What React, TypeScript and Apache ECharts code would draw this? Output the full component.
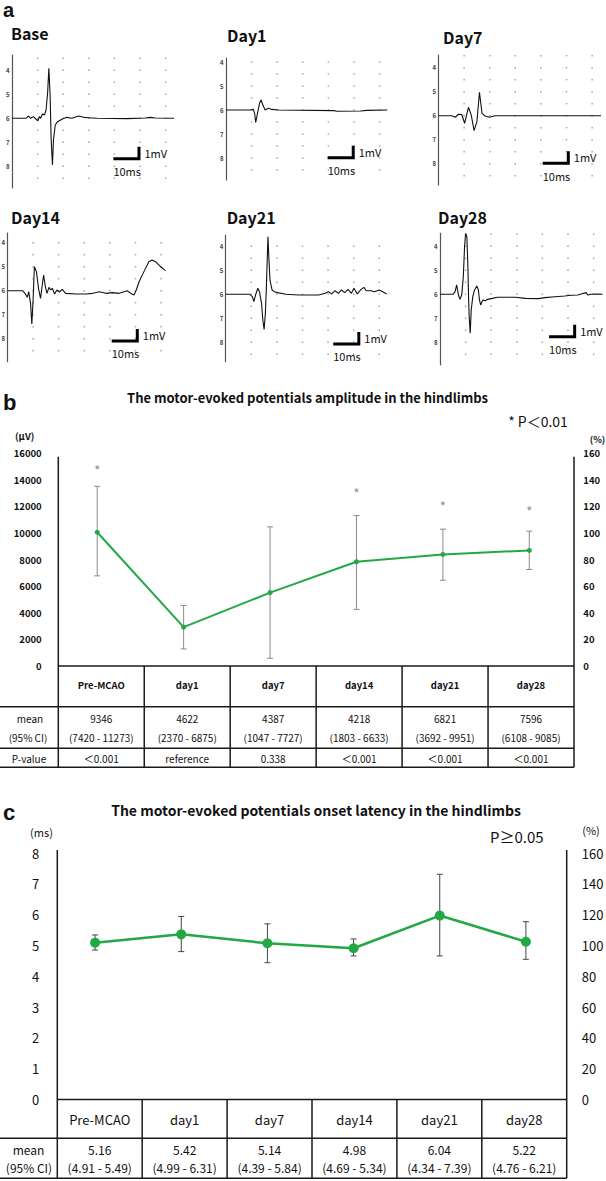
import React, { useEffect, useRef } from "react";
import * as echarts from "echarts";

const W = 606;
const H = 1181;
const FONT = '"Noto Sans CJK JP", "Noto Sans", sans-serif';
const LETTER_FONT = '"Liberation Sans", Arial, sans-serif';
const GREEN = "#22a845";
const INK = "#111";

// ---------- Panel a: MEP waveforms, [ms, mV] ----------
const BASE_TRACE = [[0,0],[5.5,0],[6.4,0.19],[7.3,0],[8.4,0.14],[9.4,-0.08],[10.1,-0.2],[10.7,0.14],[11.2,0],[11.9,0.36],[12.7,0.28],[13.3,0.69],[13.9,2.08],[14.4,4.17],[14.9,1.8],[15.3,-1.8],[15.8,-3.89],[16.2,-1.8],[16.9,-0.56],[17.8,-0.28],[19.5,-0.08],[21.4,0.08],[23.4,0],[26,0.19],[28,0.08],[29.9,0.05],[33.2,0],[45,-0.03],[52,0.03],[54,0.08],[56,0.02],[63.3,0]];
const DAY1_TRACE = [[0,0],[9.4,0],[10.7,0.05],[11.2,-0.3],[11.6,-1.03],[12.3,-0.28],[13.1,0.56],[13.7,0.83],[14.4,0.42],[15.3,0],[16.6,0.14],[17.9,0.05],[20.5,0],[42.1,-0.05],[43.4,-0.1],[52.5,-0.08],[55,-0.03],[63,0]];
const DAY7_TRACE = [[0,0],[5.2,0],[6.5,-0.13],[7.8,0.12],[9.1,0.1],[10.2,-0.63],[11.7,0.7],[12.8,0.05],[13.9,-1.25],[15,-0.5],[16,1.95],[17,0.2],[18.2,-0.03],[19.9,-0.13],[22.1,0],[63.5,0]];
const DAY14_TRACE = [[0,0],[5.9,0],[6.8,-0.22],[7.7,-0.55],[8.3,-0.08],[9.0,-1.05],[9.5,-2.78],[10.0,-0.78],[10.5,2.0],[11.3,1.59],[12.1,0.2],[12.9,-0.64],[13.5,0.33],[14.1,1.31],[14.8,0.33],[15.4,-0.22],[16.2,0.28],[16.9,0.06],[17.5,0.2],[18.4,-0.28],[19.3,0.06],[20.3,-0.11],[21.4,0.11],[22.7,-0.22],[26.8,-0.28],[30.7,-0.28],[33.3,-0.22],[35.9,-0.08],[38.4,-0.22],[41,-0.16],[43.6,-0.22],[46.8,0],[48.1,-0.22],[49.4,-0.36],[50.3,0.06],[51.4,0.75],[53.3,1.59],[55.2,2.42],[56.5,2.56],[57.8,2.42],[59.8,2.0],[61.7,1.67]];
const DAY21_TRACE = [[0,0],[9.35,0],[10.4,-0.2],[11.0,-0.61],[11.65,-0.06],[12.55,0.5],[13.2,0.22],[14.0,-0.75],[14.5,-2.14],[15.0,-2.92],[15.5,-1.58],[15.9,0.64],[16.3,3.41],[16.5,4.8],[16.9,2.86],[17.3,1.19],[18.1,0.36],[19.0,0.22],[20.2,0.14],[23.5,0],[28.6,-0.06],[36.3,-0.06],[38.8,0.08],[40.1,0.22],[41.4,0.03],[42.7,0.3],[44,0.08],[45.2,0.36],[46.5,0.14],[47.8,0.41],[49.1,0.08],[50.1,0.5],[51.4,0.03],[52.9,0.41],[54,0.58],[54.9,0.3],[56.8,0.3],[58.1,0.22],[60,0.36],[61.3,0.22],[62.9,0.03]];
const DAY28_TRACE = [[0,0],[5.1,0],[5.9,0.22],[6.5,0.78],[7.2,-0.06],[7.8,-0.42],[8.5,-0.06],[9.1,1.47],[9.6,3.97],[10,5.08],[10.5,4.8],[10.9,2.3],[11.15,-0.2],[11.4,-1.86],[11.8,-3.25],[12.2,-1.31],[12.8,-0.2],[13.5,0.36],[14.4,0.69],[15,0.36],[15.4,-0.47],[15.9,-0.89],[16.4,-0.61],[16.9,-0.47],[17.7,-0.53],[18.6,-0.42],[20.5,-0.34],[22.4,-0.25],[25.6,-0.25],[29.5,-0.25],[33.3,-0.34],[38.5,-0.36],[41,-0.28],[44.9,-0.2],[48.7,-0.14],[51.3,-0.08],[53.8,-0.06],[55.1,0.03],[57.1,0.14],[57.7,-0.06],[59,0],[61.5,0.03],[63.5,0]];
const TRACES = [BASE_TRACE, DAY1_TRACE, DAY7_TRACE, DAY14_TRACE, DAY21_TRACE, DAY28_TRACE];
const WAVE_TITLES = ["Base", "Day1", "Day7", "Day14", "Day21", "Day28"];
// scale bar start: [ms, mV] (10 ms horizontal, 1 mV vertical)
const SCALE_BARS = [[39.6,-3.37],[39.7,-3.98],[40.7,-3.97],[40.7,-4.19],[42,-4.14],[42.6,-3.53]];
const WAVE_LABEL_VALUES = [-4, -2, 0, 2, 4];
const DOT_MS = [10, 20, 30, 40, 50, 60];
const DOT_MV = [5, 4, 3, 2, 1, 0, -1, -2, -3, -4, -5];

// ---------- Panel b: amplitude ----------
const CATEGORIES = ["Pre-MCAO", "day1", "day7", "day14", "day21", "day28"];
const AMP_MEAN = [10050, 2920, 5510, 7830, 8380, 8680];
const AMP_HI = [13500, 4550, 10450, 11300, 10280, 10130];
const AMP_LO = [6770, 1280, 580, 4250, 6440, 7250];
const AMP_STAR = [14700, null, null, 13000, 12000, 11650];
const AMP_TICK_LEFT = { min: 0, max: 16000, interval: 2000 };
const AMP_TICK_RIGHT = { min: 0, max: 160, interval: 20 };
const AMP_TABLE_MEAN = ["9346", "4622", "4387", "4218", "6821", "7596"];
const AMP_TABLE_CI = ["(7420 - 11273)", "(2370 - 6875)", "(1047 - 7727)", "(1803 - 6633)", "(3692 - 9951)", "(6108 - 9085)"];
const AMP_TABLE_P = ["＜0.001", "reference", "0.338", "＜0.001", "＜0.001", "＜0.001"];

// ---------- Panel c: latency ----------
const LAT_MEAN = [5.09, 5.36, 5.07, 4.91, 5.97, 5.12];
const LAT_HI = [5.34, 5.94, 5.70, 5.21, 7.31, 5.77];
const LAT_LO = [4.85, 4.80, 4.44, 4.66, 4.66, 4.55];
const LAT_TICK_LEFT = { min: 0, max: 8, interval: 1 };
const LAT_TICK_RIGHT = { min: 0, max: 160, interval: 20 };
const LAT_TABLE_MEAN = ["5.16", "5.42", "5.14", "4.98", "6.04", "5.22"];
const LAT_TABLE_CI = ["(4.91 - 5.49)", "(4.99 - 6.31)", "(4.39 - 5.84)", "(4.69 - 5.34)", "(4.34 - 7.39)", "(4.76 - 6.21)"];

// ---------- layout ----------
const PPM = 2.56; // px per ms
const PPV = 12; // px per mV
const X_MAX = 64;
const WAVE_LAYOUT = [
  { tx: 11, ty: 33, x0: 12, base: 118.3, top: 55, bottom: 188 },
  { tx: 227, ty: 34.5, x0: 226, base: 110, top: 58, bottom: 180 },
  { tx: 443, ty: 36.5, x0: 438.5, base: 115.7, top: 55, bottom: 185 },
  { tx: 11, ty: 216.5, x0: 7.5, base: 290.7, top: 233, bottom: 361.7 },
  { tx: 226.7, ty: 216.5, x0: 225.7, base: 294.3, top: 235, bottom: 361.7 },
  { tx: 438, ty: 216.5, x0: 440, base: 294.3, top: 233.3, bottom: 365 },
];
const B = { left: 54, top: 453, width: 518.5, height: 213, colLeft: 58.3, colRight: 574, axisTop: 456.7, rowLines: [706.7, 748.3, 767.3], headY: 684.5, rowY: [718.3, 737.5, 758] };
const C = { left: 52, top: 853, width: 517, height: 246.5, colLeft: 57.3, colRight: 566.7, axisTop: 850, rowLines: [1138.3, 1178.3], headY: 1119.3, rowY: [1149, 1167.7] };

function txt(text: string, x: number, y: number, size: number, o: any = {}) {
  const align = o.align || "center";
  return {
    type: "text", x, y, silent: true, z: 10,
    style: {
      text, fontSize: size, fontFamily: o.family || FONT, fontWeight: o.weight || "normal",
      fill: o.color || INK, align, verticalAlign: "middle", textAlign: align, textVerticalAlign: "middle",
    },
  };
}
function ln(x1: number, y1: number, x2: number, y2: number, w = 1.5, c = "#1a1a1a") {
  return { type: "line", silent: true, z: 10, shape: { x1, y1, x2, y2 }, style: { stroke: c, lineWidth: w } };
}

function errorBars(xi: number, yi: number, lo: number[], hi: number[], color: string, cap: number) {
  return {
    type: "custom", xAxisIndex: xi, yAxisIndex: yi, z: 2, silent: true,
    data: lo.map((l, i) => [i, l, hi[i]]),
    encode: { x: 0, y: [1, 2] },
    renderItem: (_p: any, api: any) => {
      const i = api.value(0);
      const a = api.coord([i, api.value(1)]);
      const b = api.coord([i, api.value(2)]);
      const st = { stroke: color, lineWidth: 1 };
      return {
        type: "group",
        children: [
          { type: "line", shape: { x1: a[0], y1: a[1], x2: b[0], y2: b[1] }, style: st },
          { type: "line", shape: { x1: a[0] - cap, y1: a[1], x2: a[0] + cap, y2: a[1] }, style: st },
          { type: "line", shape: { x1: b[0] - cap, y1: b[1], x2: b[0] + cap, y2: b[1] }, style: st },
        ],
      };
    },
  };
}

function buildOption() {
  const grid: any[] = [];
  const xAxis: any[] = [];
  const yAxis: any[] = [];
  const series: any[] = [];
  const graphic: any[] = [];

  // ----- panel a -----
  WAVE_LAYOUT.forEach((L, i) => {
    const yMax = (L.base - L.top) / PPV;
    const yMin = -(L.bottom - L.base) / PPV;
    grid.push({ left: L.x0, top: L.top, width: X_MAX * PPM, height: L.bottom - L.top, outerBoundsMode: "none", containLabel: false });
    xAxis.push({ type: "value", gridIndex: i, min: 0, max: X_MAX, show: false });
    yAxis.push({
      type: "value", gridIndex: i, min: yMin, max: yMax,
      axisLine: { show: true, lineStyle: { color: "#555", width: 1.2 } },
      axisTick: { show: false }, splitLine: { show: false },
      axisLabel: {
        show: true, customValues: WAVE_LABEL_VALUES, formatter: (v: number) => String(Math.round(6 - v / 2)),
        fontSize: 6, fontWeight: "bold", color: "#444", margin: 2.5, fontFamily: FONT,
      },
    });
    const dots: number[][] = [];
    DOT_MS.forEach((m) => DOT_MV.forEach((v) => { if (v <= yMax && v >= yMin) dots.push([m, v]); }));
    series.push({
      type: "scatter", xAxisIndex: i, yAxisIndex: i, data: dots, symbol: "rect", symbolSize: 1.4,
      itemStyle: { color: "#888" }, silent: true, z: 1,
    });
    series.push({
      type: "line", xAxisIndex: i, yAxisIndex: i, data: TRACES[i], showSymbol: false, symbol: "none",
      lineStyle: { color: "#111", width: 1.1 }, silent: true, z: 3,
    });
    const [s, v] = SCALE_BARS[i];
    series.push({
      type: "line", xAxisIndex: i, yAxisIndex: i, data: [[s, v], [s + 10, v], [s + 10, v + 1]],
      showSymbol: false, symbol: "none", lineStyle: { color: "#000", width: 3, cap: "butt", join: "miter" }, silent: true, z: 4,
    });
    const sx = L.x0 + s * PPM;
    const cx = L.x0 + (s + 10) * PPM;
    const by = L.base - v * PPV;
    graphic.push(txt("1mV", cx + 5.5, by - PPV / 2, 11, { align: "left" }));
    graphic.push(txt("10ms", sx, by + 12.5, 11, { align: "left" }));
    graphic.push(txt(WAVE_TITLES[i], L.tx, L.ty, 16, { align: "left", weight: "bold" }));
  });

  // ----- panel b -----
  const gb = grid.length;
  grid.push({ left: B.left, top: B.top, width: B.width, height: B.height, outerBoundsMode: "none", containLabel: false });
  xAxis.push({ type: "category", gridIndex: gb, data: CATEGORIES, boundaryGap: true, show: false });
  const yb = yAxis.length;
  yAxis.push({
    type: "value", gridIndex: gb, ...AMP_TICK_LEFT, position: "left",
    axisLine: { show: false }, axisTick: { show: false }, splitLine: { show: false },
    axisLabel: { fontSize: 9.5, fontWeight: "bold", color: INK, margin: 12.3, fontFamily: FONT, formatter: (v: number) => String(v) },
  });
  yAxis.push({
    type: "value", gridIndex: gb, ...AMP_TICK_RIGHT, position: "right",
    axisLine: { show: false }, axisTick: { show: false }, splitLine: { show: false },
    axisLabel: { fontSize: 9.5, fontWeight: "bold", color: INK, margin: 10.8, fontFamily: FONT, formatter: (v: number) => String(v) },
  });
  series.push(errorBars(gb, yb, AMP_LO, AMP_HI, "#8a8a8a", 3));
  series.push({
    type: "line", xAxisIndex: gb, yAxisIndex: yb, data: AMP_MEAN, symbol: "circle", symbolSize: 5,
    itemStyle: { color: GREEN }, lineStyle: { color: GREEN, width: 2 }, z: 5, silent: true,
  });
  series.push({
    type: "scatter", xAxisIndex: gb, yAxisIndex: yb, z: 6, silent: true,
    data: AMP_STAR.map((v, i) => (v == null ? null : [i, v])).filter((d) => d),
    symbolSize: 1, itemStyle: { color: "rgba(0,0,0,0)" },
    label: { show: true, position: "inside", formatter: "*", fontSize: 14, color: "#777", fontFamily: FONT },
  });

  // ----- panel c -----
  const gc = grid.length;
  grid.push({ left: C.left, top: C.top, width: C.width, height: C.height, outerBoundsMode: "none", containLabel: false });
  xAxis.push({ type: "category", gridIndex: gc, data: CATEGORIES, boundaryGap: true, show: false });
  const yc = yAxis.length;
  yAxis.push({
    type: "value", gridIndex: gc, ...LAT_TICK_LEFT, position: "left",
    axisLine: { show: false }, axisTick: { show: false }, splitLine: { show: false },
    axisLabel: { fontSize: 13, color: INK, margin: 12.7, fontFamily: FONT },
  });
  yAxis.push({
    type: "value", gridIndex: gc, ...LAT_TICK_RIGHT, position: "right",
    axisLine: { show: false }, axisTick: { show: false }, splitLine: { show: false },
    axisLabel: { fontSize: 13, color: INK, margin: 12.7, fontFamily: FONT },
  });
  series.push(errorBars(gc, yc, LAT_LO, LAT_HI, "#444", 3));
  series.push({
    type: "line", xAxisIndex: gc, yAxisIndex: yc, data: LAT_MEAN, symbol: "circle", symbolSize: 10,
    itemStyle: { color: GREEN }, lineStyle: { color: GREEN, width: 2.5 }, z: 5, silent: true,
  });

  // ----- texts -----
  graphic.push(txt("a", 3, 10, 20, { align: "left", weight: "bold", family: LETTER_FONT }));
  graphic.push(txt("b", 3, 402, 22, { align: "left", weight: "bold", family: LETTER_FONT }));
  graphic.push(txt("c", 3, 812.5, 22, { align: "left", weight: "bold", family: LETTER_FONT }));
  graphic.push(txt("The motor-evoked potentials amplitude in the hindlimbs", 307.5, 397, 13, { weight: "bold" }));
  graphic.push(txt("* P＜0.01", 538, 420.7, 14));
  graphic.push(txt("(μV)", 24.7, 436, 9.5, { weight: "bold" }));
  graphic.push(txt("(%)", 597.5, 439.3, 9, { weight: "bold" }));
  graphic.push(txt("The motor-evoked potentials onset latency in the hindlimbs", 316, 810, 14, { weight: "bold" }));
  graphic.push(txt("P≥0.05", 516.7, 836, 15));
  graphic.push(txt("(ms)", 41.5, 831.7, 11));
  graphic.push(txt("(%)", 591, 830, 11));

  // ----- table b -----
  const bw = (B.colRight - B.colLeft) / CATEGORIES.length;
  const bBottom = B.rowLines[B.rowLines.length - 1];
  const bAxisY = B.top + B.height;
  graphic.push(ln(B.colLeft, bAxisY, B.colRight, bAxisY));
  B.rowLines.forEach((y) => graphic.push(ln(0, y, B.colRight, y)));
  for (let k = 0; k <= CATEGORIES.length; k++) {
    const x = B.colLeft + k * bw;
    const y1 = k === 0 || k === CATEGORIES.length ? B.axisTop : bAxisY;
    graphic.push(ln(x, y1, x, bBottom));
  }
  CATEGORIES.forEach((c, i) => {
    const x = B.colLeft + (i + 0.5) * bw;
    graphic.push(txt(c, x, B.headY, 9.5, { weight: "bold" }));
    graphic.push(txt(AMP_TABLE_MEAN[i], x, B.rowY[0], 10));
    graphic.push(txt(AMP_TABLE_CI[i], x, B.rowY[1], 10));
    graphic.push(txt(AMP_TABLE_P[i], x, B.rowY[2], 10));
  });
  graphic.push(txt("mean", 30, B.rowY[0], 10));
  graphic.push(txt("(95% CI)", 28, B.rowY[1], 10));
  graphic.push(txt("P-value", 29, B.rowY[2], 10));

  // ----- table c -----
  const cw = (C.colRight - C.colLeft) / CATEGORIES.length;
  const cBottom = C.rowLines[C.rowLines.length - 1];
  const cAxisY = C.top + C.height;
  graphic.push(ln(C.colLeft, cAxisY, C.colRight, cAxisY));
  C.rowLines.forEach((y) => graphic.push(ln(0, y, C.colRight, y)));
  for (let k = 0; k <= CATEGORIES.length; k++) {
    const x = C.colLeft + k * cw;
    const y1 = k === 0 || k === CATEGORIES.length ? C.axisTop : cAxisY;
    graphic.push(ln(x, y1, x, cBottom));
  }
  CATEGORIES.forEach((c, i) => {
    const x = C.colLeft + (i + 0.5) * cw;
    graphic.push(txt(c, x, C.headY, 13));
    graphic.push(txt(LAT_TABLE_MEAN[i], x, C.rowY[0], 12));
    graphic.push(txt(LAT_TABLE_CI[i], x, C.rowY[1], 12));
  });
  graphic.push(txt("mean", 28.5, C.rowY[0], 12));
  graphic.push(txt("(95% CI)", 29, C.rowY[1], 12));

  return {
    animation: false,
    backgroundColor: "#fff",
    textStyle: { fontFamily: FONT },
    grid, xAxis, yAxis, series, graphic,
  };
}

export default function App() {
  const ref = useRef<HTMLDivElement>(null);
  useEffect(() => {
    if (!ref.current) return;
    const chart = echarts.init(ref.current, null, { renderer: "svg", width: W, height: H });
    chart.setOption(buildOption() as any);
    return () => chart.dispose();
  }, []);
  return (
    <div
      ref={ref}
      style={{ position: "absolute", left: 0, top: 0, width: W, height: H, background: "#fff" }}
    />
  );
}
